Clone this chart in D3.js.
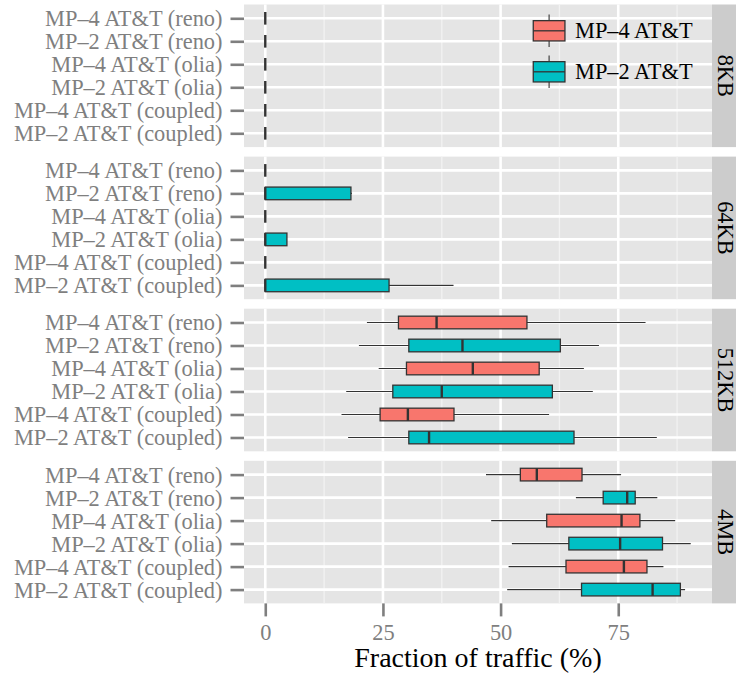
<!DOCTYPE html>
<html>
<head>
<meta charset="utf-8">
<script src="https://cdn.jsdelivr.net/npm/d3@7"></script>
<style>
  html, body { margin: 0; padding: 0; background: #ffffff; }
  svg { display: block; }
  text { font-family: "Liberation Serif", "Times New Roman", serif; }
</style>
</head>
<body>
<svg id="chart" width="736" height="674"></svg>
<script>
// ---------------- data ----------------
const facets = ["8KB", "64KB", "512KB", "4MB"];
const categories = [
  "MP–4 AT&T (reno)",
  "MP–2 AT&T (reno)",
  "MP–4 AT&T (olia)",
  "MP–2 AT&T (olia)",
  "MP–4 AT&T (coupled)",
  "MP–2 AT&T (coupled)"
];
const groups = ["MP–4 AT&T", "MP–2 AT&T"];
const categoryGroup = ["MP–4 AT&T", "MP–2 AT&T", "MP–4 AT&T", "MP–2 AT&T", "MP–4 AT&T", "MP–2 AT&T"];
// each row: [lower whisker, Q1, median, Q3, upper whisker]  (Fraction of traffic, %)
const stats8KB = [
  [0, 0, 0, 0, 0], [0, 0, 0, 0, 0], [0, 0, 0, 0, 0],
  [0, 0, 0, 0, 0], [0, 0, 0, 0, 0], [0, 0, 0, 0, 0]
];
const stats64KB = [
  [0, 0, 0, 0, 0],
  [0, 0, 0, 18.2, 18.4],
  [0, 0, 0, 0, 0],
  [0, 0, 0, 4.6, 4.6],
  [0, 0, 0, 0, 0],
  [0, 0, 0, 26.3, 40.0]
];
const stats512KB = [
  [21.6, 28.3, 36.4, 55.6, 80.8],
  [19.9, 30.5, 41.9, 62.7, 70.9],
  [24.1, 30.0, 44.1, 58.2, 67.7],
  [17.2, 27.1, 37.5, 61.0, 69.6],
  [16.2, 24.4, 30.3, 40.1, 60.3],
  [17.6, 30.5, 34.8, 65.6, 83.2]
];
const stats4MB = [
  [46.9, 54.2, 57.7, 67.3, 75.6],
  [66.0, 71.8, 76.9, 78.6, 83.3],
  [48.0, 59.8, 75.7, 79.6, 87.1],
  [52.4, 64.5, 75.4, 84.4, 90.4],
  [51.7, 63.9, 76.2, 81.1, 84.6],
  [51.4, 67.2, 82.3, 88.2, 89.2]
];
const xTicks = [0, 25, 50, 75];
const xMinorTicks = [12.5, 37.5, 62.5, 87.5];
const xTitle = "Fraction of traffic (%)";

// ---------------- layout ----------------
const facetStats = [stats8KB, stats64KB, stats512KB, stats4MB];
const svg = d3.select("#chart");
const plotLeft = 244, plotRight = 712;
const stripRight = 736;
const panelTop0 = 4.5, panelH = 142.6, panelGap = 9.5;
const axisFont = "22.4px";
const gray50 = "#7f7f7f";

const x = d3.scaleLinear().domain([-4.52, 94.92]).range([plotLeft, plotRight]);
const color = d3.scaleOrdinal().domain(groups).range(["#F8766D", "#00BFC4"]);

facets.forEach((facet, fi) => {
  const top = panelTop0 + fi * (panelH + panelGap);
  const y = d3.scalePoint().domain(categories).range([top, top + panelH]).padding(0.6);
  const boxH = y.step() * 0.55;
  const g = svg.append("g");

  // panel background
  g.append("rect").attr("x", plotLeft).attr("y", top)
    .attr("width", plotRight - plotLeft).attr("height", panelH).attr("fill", "#e5e5e5");
  // minor grid
  g.selectAll(".minor").data(xMinorTicks).enter().append("line")
    .attr("x1", d => x(d)).attr("x2", d => x(d)).attr("y1", top).attr("y2", top + panelH)
    .attr("stroke", "#f2f2f2").attr("stroke-width", 1.3);
  // major grid
  g.selectAll(".majx").data(xTicks).enter().append("line")
    .attr("x1", d => x(d)).attr("x2", d => x(d)).attr("y1", top).attr("y2", top + panelH)
    .attr("stroke", "#ffffff").attr("stroke-width", 2.6);
  g.selectAll(".majy").data(categories).enter().append("line")
    .attr("x1", plotLeft).attr("x2", plotRight).attr("y1", d => y(d)).attr("y2", d => y(d))
    .attr("stroke", "#ffffff").attr("stroke-width", 2.6);

  // strip
  g.append("rect").attr("x", plotRight).attr("y", top)
    .attr("width", stripRight - plotRight).attr("height", panelH).attr("fill", "#cccccc");
  g.append("text")
    .attr("transform", `translate(${(plotRight + stripRight) / 2 + 1},${top + panelH / 2}) rotate(90)`)
    .attr("text-anchor", "middle").attr("dominant-baseline", "central")
    .attr("font-size", axisFont).attr("fill", "#000").text(facet);

  // boxplots
  const rows = facetStats[fi].map((s, i) => ({ cat: categories[i], grp: categoryGroup[i], s }));
  const bp = g.selectAll(".bp").data(rows).enter().append("g");
  bp.append("line")
    .attr("x1", d => x(d.s[0])).attr("x2", d => x(d.s[4]))
    .attr("y1", d => y(d.cat)).attr("y2", d => y(d.cat))
    .attr("stroke", "#333333").attr("stroke-width", 1.1);
  bp.append("rect")
    .attr("x", d => x(d.s[1])).attr("width", d => x(d.s[3]) - x(d.s[1]))
    .attr("y", d => y(d.cat) - boxH / 2).attr("height", boxH)
    .attr("fill", d => color(d.grp)).attr("stroke", "#333333").attr("stroke-width", 1.3);
  bp.append("line")
    .attr("x1", d => x(d.s[2])).attr("x2", d => x(d.s[2]))
    .attr("y1", d => y(d.cat) - boxH / 2).attr("y2", d => y(d.cat) + boxH / 2)
    .attr("stroke", "#333333").attr("stroke-width", 2.4);

  // y axis
  const ya = g.append("g").attr("transform", `translate(${plotLeft},0)`)
    .call(d3.axisLeft(y).tickSize(13.5).tickPadding(8));
  ya.select(".domain").remove();
  ya.selectAll(".tick line").attr("stroke", gray50).attr("stroke-width", 2.6);
  ya.selectAll(".tick text").attr("font-size", axisFont).attr("fill", gray50)
    .attr("font-family", "'Liberation Serif', 'Times New Roman', serif")
    .attr("dy", "0.33em");
});

// x axis
const bottom = panelTop0 + 4 * panelH + 3 * panelGap;
const xa = svg.append("g").attr("transform", `translate(0,${bottom})`)
  .call(d3.axisBottom(x).tickValues(xTicks).tickSize(13).tickFormat(d3.format("d")));
xa.select(".domain").remove();
xa.selectAll(".tick line").attr("stroke", gray50).attr("stroke-width", 2.6);
xa.selectAll(".tick text").attr("font-size", axisFont).attr("fill", gray50)
  .attr("font-family", "'Liberation Serif', 'Times New Roman', serif")
  .attr("y", 640 - bottom).attr("dy", 0);

svg.append("text").attr("x", (plotLeft + plotRight) / 2).attr("y", 667)
  .attr("text-anchor", "middle").attr("font-size", "28px").attr("fill", "#000").text(xTitle);

// legend
const keyLeft = 529.3, keyW = 39.6, keyH = 40.6;
const legendCenters = [30.8, 71.8];
groups.forEach((grp, i) => {
  const cy = legendCenters[i];
  const top = cy - keyH / 2;
  const lg = svg.append("g");
  const cx = keyLeft + keyW / 2;
  lg.append("line").attr("x1", cx).attr("x2", cx).attr("y1", top + 0.1 * keyH).attr("y2", top + 0.9 * keyH)
    .attr("stroke", "#333333").attr("stroke-width", 1.1);
  lg.append("rect").attr("x", keyLeft + 0.1 * keyW).attr("width", 0.8 * keyW)
    .attr("y", top + 0.25 * keyH).attr("height", 0.5 * keyH)
    .attr("fill", color(grp)).attr("stroke", "#333333").attr("stroke-width", 1.3);
  lg.append("line").attr("x1", keyLeft + 0.1 * keyW).attr("x2", keyLeft + 0.9 * keyW)
    .attr("y1", cy).attr("y2", cy).attr("stroke", "#333333").attr("stroke-width", 1.3);
  lg.append("text").attr("x", 575).attr("y", cy).attr("dy", "0.33em")
    .attr("font-size", axisFont).attr("fill", "#000").text(grp);
});
</script>
</body>
</html>
